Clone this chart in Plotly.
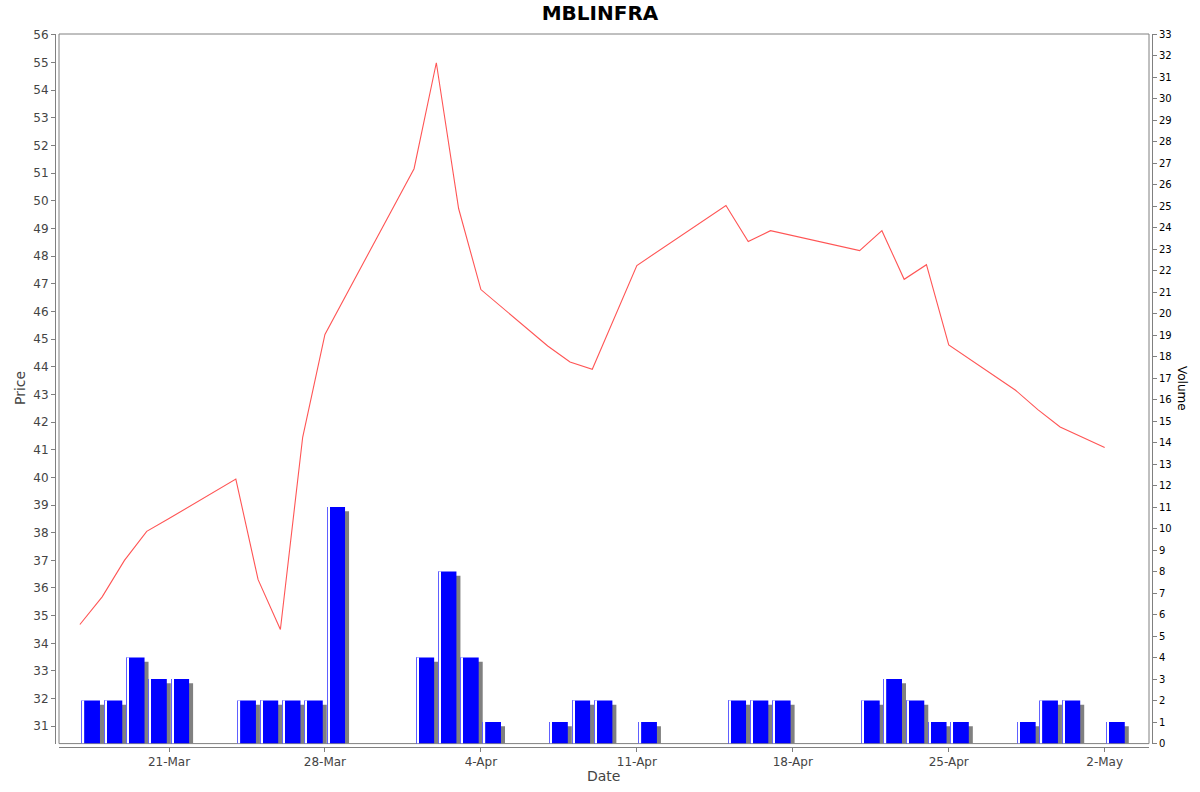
import pandas as pd
import plotly.graph_objects as go

# ---- data ----
dates = ["2016-03-17", "2016-03-18", "2016-03-19", "2016-03-20", "2016-03-21",
         "2016-03-24", "2016-03-25", "2016-03-26", "2016-03-27", "2016-03-28",
         "2016-04-01", "2016-04-02", "2016-04-03", "2016-04-04",
         "2016-04-07", "2016-04-08", "2016-04-09", "2016-04-11",
         "2016-04-15", "2016-04-16", "2016-04-17",
         "2016-04-21", "2016-04-22", "2016-04-23", "2016-04-24", "2016-04-25",
         "2016-04-28", "2016-04-29", "2016-04-30", "2016-05-02"]
price = [34.68, 35.68, 37.00, 38.05, 38.51,
         39.94, 36.30, 34.50, 41.45, 45.17,
         51.16, 54.99, 49.72, 46.79,
         44.75, 44.17, 43.91, 47.66,
         49.83, 48.53, 48.92,
         48.20, 48.92, 47.16, 47.69, 44.79,
         43.15, 42.45, 41.82, 41.08]
volume = [2, 2, 4, 3, 3,
          2, 2, 2, 2, 11,
          4, 8, 4, 1,
          1, 2, 2, 1,
          2, 2, 2,
          2, 3, 2, 1, 1,
          1, 2, 2, 1]
tick_dates = ["2016-03-21", "2016-03-28", "2016-04-04", "2016-04-11", "2016-04-18", "2016-04-25", "2016-05-02"]
tick_text = ["21-Mar", "28-Mar", "4-Apr", "11-Apr", "18-Apr", "25-Apr", "2-May"]
price_ticks = list(range(31, 57))
volume_ticks = list(range(0, 34))

# ---- styling / geometry ----
DAY = pd.Timedelta(days=1)
DAY_MS = 86400000
d = pd.to_datetime(dates)
bar_x = d + 0.498 * DAY
shadow_x = d + 0.678 * DAY
edge_x = d + 0.115 * DAY
stripe_x = d + 0.165 * DAY
shadow_h = [v - 0.19 for v in volume]

GRAY = "#808080"
TXT = "#444444"
FONT = "DejaVu Sans"

fig = go.Figure()
fig.add_trace(go.Bar(x=shadow_x, y=shadow_h, width=0.808 * DAY_MS, yaxis="y2",
                     marker=dict(color="#808080", line=dict(width=0)), showlegend=False,
                     hoverinfo="skip"))
fig.add_trace(go.Bar(x=bar_x, y=volume, width=0.808 * DAY_MS, yaxis="y2",
                     marker=dict(color="#0000FF", line=dict(width=0)), showlegend=False,
                     name="Volume"))
fig.add_trace(go.Bar(x=edge_x, y=volume, width=0.045 * DAY_MS, yaxis="y2",
                     marker=dict(color="#6060FF", line=dict(width=0)), showlegend=False,
                     hoverinfo="skip"))
fig.add_trace(go.Bar(x=stripe_x, y=volume, width=0.055 * DAY_MS, yaxis="y2",
                     marker=dict(color="#FFFFFF", line=dict(width=0)), showlegend=False,
                     hoverinfo="skip"))
fig.add_trace(go.Scatter(x=d, y=price, mode="lines", yaxis="y",
                         line=dict(color="#FF5555", width=1.1), showlegend=False, name="Price"))

W, H = 1200, 792
ml, mr, mt, mb = 55, 48, 34, 45
pw = W - ml - mr
ph = H - mt - mb

fig.update_layout(
    width=W, height=H,
    margin=dict(l=ml, r=mr, t=mt, b=mb, pad=0),
    paper_bgcolor="white", plot_bgcolor="white",
    barmode="overlay",
    font=dict(family=FONT, size=12, color=TXT),
    title=dict(text="<b>MBLINFRA</b>", x=0.5, xref="container", y=1 - 13 / H, yref="container",
               xanchor="center", yanchor="middle", font=dict(family=FONT, size=20, color="#000000")),
    xaxis=dict(type="date", domain=[4 / pw, (1149 - ml) / pw], anchor="free", position=0,
               range=["2016-03-16 01:30", "2016-05-03 23:45"],
               tickvals=tick_dates, ticktext=tick_text,
               showline=True, linecolor=GRAY, linewidth=1,
               ticks="outside", ticklen=4, tickcolor=GRAY,
               showgrid=False, zeroline=False,
               tickfont=dict(family=FONT, size=12, color=TXT)),
    yaxis=dict(domain=[3.4 / ph, 1], anchor="free", position=0,
               range=[30.374, 56.03], tickvals=price_ticks,
               showline=True, linecolor=GRAY, linewidth=1,
               ticks="outside", ticklen=4, tickcolor=GRAY,
               showgrid=False, zeroline=False,
               tickfont=dict(family=FONT, size=12, color=TXT)),
    yaxis2=dict(overlaying="y", side="right", anchor="free", position=1,
                range=[0, 33], tickvals=volume_ticks,
                showline=True, linecolor=GRAY, linewidth=1,
                ticks="outside", ticklen=4, tickcolor=GRAY,
                showgrid=False, zeroline=False,
                tickfont=dict(family=FONT, size=10, color="#000000")),
)

# plot frame
fig.add_shape(type="rect", xref="x domain", yref="y domain", x0=0, x1=1, y0=0, y1=1,
              line=dict(color=GRAY, width=1), fillcolor="rgba(0,0,0,0)", layer="below")

def px_x(px):
    return (px - ml) / pw

def px_y(py):
    return (H - mb - py) / ph

fig.add_annotation(text="Price", xref="paper", yref="paper", x=px_x(20), y=px_y(388),
                   showarrow=False, textangle=-90, font=dict(family=FONT, size=14, color=TXT),
                   xanchor="center", yanchor="middle")
fig.add_annotation(text="Date", xref="paper", yref="paper", x=px_x(603), y=px_y(776),
                   showarrow=False, font=dict(family=FONT, size=14, color=TXT),
                   xanchor="center", yanchor="middle")
fig.add_annotation(text="Volume", xref="paper", yref="paper", x=px_x(1182), y=px_y(388),
                   showarrow=False, textangle=90, font=dict(family=FONT, size=12, color="#000000"),
                   xanchor="center", yanchor="middle")

fig.write_html("out.html", config={"displayModeBar": False},
               post_script="document.body.style.margin='0';document.body.style.overflow='hidden';")
